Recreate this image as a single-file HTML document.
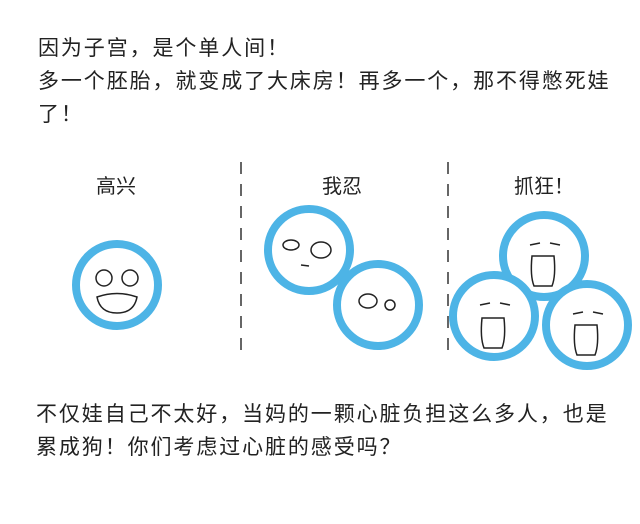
<!DOCTYPE html>
<html><head><meta charset="utf-8"><style>
html,body{margin:0;padding:0;background:#fff;}
body{width:640px;height:524px;position:relative;overflow:hidden;font-family:"Noto Sans CJK SC","Liberation Sans",sans-serif;color:#222;}
.t{position:absolute;left:38px;font-size:21px;letter-spacing:1.9px;line-height:33px;white-space:nowrap;}
.h{position:absolute;font-size:20px;top:170px;}
</style></head><body>
<div class="t" style="top:31px">因为子宫，是个单人间！<br>多一个胚胎，就变成了大床房！再多一个，那不得憋死娃<br>了！</div>
<div class="h" style="left:96px">高兴</div>
<div class="h" style="left:322px">我忍</div>
<div class="h" style="left:514px">抓狂！</div>
<div class="t" style="top:397px;left:36px">不仅娃自己不太好，当妈的一颗心脏负担这么多人，也是<br>累成狗！你们考虑过心脏的感受吗？</div>
<svg width="640" height="524" style="position:absolute;left:0;top:0">
<g stroke="#333" stroke-width="1.5" stroke-dasharray="12,10">
<line x1="241" y1="162" x2="241" y2="356"/><line x1="448" y1="162" x2="448" y2="356"/>
</g>
<g fill="#fff" stroke="#4db4e6" stroke-width="8">
<circle cx="117" cy="285" r="41"/>
<circle cx="309" cy="250" r="41"/>
<circle cx="378" cy="305" r="41"/>
<circle cx="544" cy="256" r="41"/>
<circle cx="494" cy="316" r="41"/>
<circle cx="587" cy="325" r="41"/>
</g>
<g fill="none" stroke="#222" stroke-width="1.5">
<circle cx="104" cy="278" r="8"/><circle cx="130" cy="278" r="8"/>
<path d="M97 297 Q117 290 137 297 Q134 313 117 313 Q100 313 97 297Z"/>
<ellipse cx="291" cy="245" rx="8" ry="5"/><ellipse cx="321" cy="250" rx="10" ry="8"/>
<path d="M301 265 l8 1"/>
<ellipse cx="368" cy="301" rx="9" ry="7"/><circle cx="390" cy="305" r="5"/>
<path d="M532 256 h22 q2 20 -2 30 h-18 q-4 -10 -2 -30z"/>
<path d="M482 318 h22 q2 20 -2 30 h-18 q-4 -10 -2 -30z"/>
<path d="M575 325 h22 q2 20 -2 30 h-18 q-4 -10 -2 -30z"/>
<path d="M530 245 l10 -2 M550 243 l10 2 M480 305 l10 -2 M500 303 l10 2 M573 314 l10 -2 M593 312 l10 2"/>
</g>
</svg>
</body></html>
